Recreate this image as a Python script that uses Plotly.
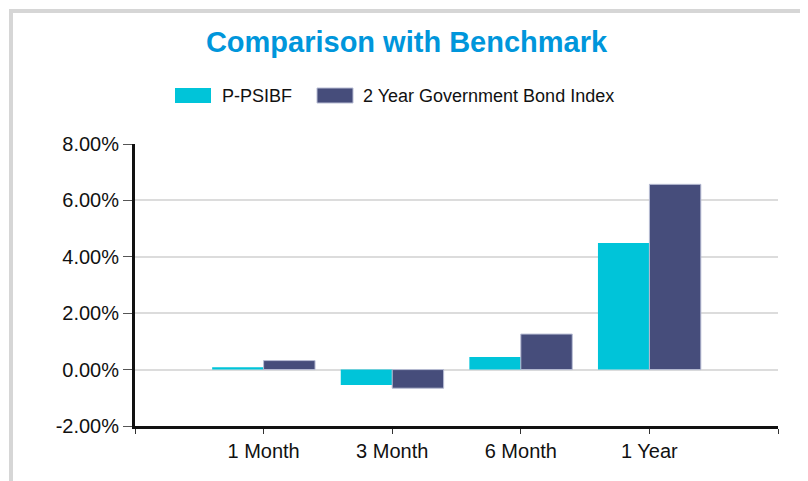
import plotly.graph_objects as go

# ---- data ----
categories = ["1 Month", "3 Month", "6 Month", "1 Year"]
fund_name = "P-PSIBF"
bench_name = "2 Year Government Bond Index"
fund_values = [0.08, -0.55, 0.45, 4.49]      # %
bench_values = [0.32, -0.66, 1.26, 6.57]     # %
y_ticks = [-2, 0, 2, 4, 6, 8]

# ---- style ----
OFF = 8  # default body margin of the html page
SW, SH = 808, 481
W, H = SW - OFF, SH - OFF
# plot area in screen pixels: x 135..778, y 144..426
ML, MT = 135 - OFF, 144 - OFF
MR, MB = SW - 778, SH - 426
PW, PH = W - ML - MR, H - MT - MB
CYAN = "#00C4D9"
NAVY = "#464D7B"
TITLE_BLUE = "#0096DB"
FONT = "Liberation Sans, Arial, sans-serif"

def px(x):
    # screen x -> paper x
    return (x - OFF - ML) / PW

def py(y):
    # screen y -> paper y
    return (H - MB - (y - OFF)) / PH

xpos = list(range(1, len(categories) + 1))

fig = go.Figure()
fig.add_trace(go.Bar(
    x=xpos, y=fund_values, name=fund_name,
    width=0.4, offset=-0.4,
    marker=dict(color=CYAN, line=dict(width=0)),
    showlegend=False,
))
fig.add_trace(go.Bar(
    x=xpos, y=bench_values, name=bench_name,
    width=0.4, offset=0.0,
    marker=dict(color=NAVY, line=dict(width=1, color="#B8BDD4")),
    showlegend=False,
))

shapes = [
    # outer border
    dict(type="rect", xref="paper", yref="paper",
         x0=px(11), x1=px(804), y0=py(11), y1=py(500),
         line=dict(color="#D6D6D6", width=4), layer="below"),
    # legend swatches
    dict(type="rect", xref="paper", yref="paper",
         x0=px(175), x1=px(211), y0=py(88), y1=py(103),
         fillcolor=CYAN, line=dict(width=0)),
    dict(type="rect", xref="paper", yref="paper",
         x0=px(317), x1=px(353), y0=py(88), y1=py(103),
         fillcolor=NAVY, line=dict(width=1, color="#B8BDD4")),
]

annotations = [
    dict(text=fund_name, xref="paper", yref="paper", x=px(220), y=py(95.5),
         xanchor="left", yanchor="middle", showarrow=False,
         font=dict(family=FONT, size=18, color="#111111")),
    dict(text=bench_name, xref="paper", yref="paper", x=px(361), y=py(95.5),
         xanchor="left", yanchor="middle", showarrow=False,
         font=dict(family=FONT, size=18, color="#111111")),
]

fig.update_layout(
    width=W, height=H,
    margin=dict(l=ML, r=MR, t=MT, b=MB),
    paper_bgcolor="white", plot_bgcolor="white",
    title=dict(text="<b>Comparison with Benchmark</b>",
               x=(406.5 - OFF) / W, xref="container",
               y=1 - (42 - OFF) / H, yref="container",
               xanchor="center", yanchor="middle",
               font=dict(family=FONT, size=29, color=TITLE_BLUE)),
    barmode="overlay",
    shapes=shapes,
    annotations=annotations,
    showlegend=False,
    xaxis=dict(
        range=[0, len(categories) + 1],
        tickmode="array",
        tickvals=[0] + xpos + [len(categories) + 1],
        ticktext=[""] + categories + [""],
        showgrid=False, zeroline=False,
        showline=True, linecolor="#111111", linewidth=3,
        ticks="outside", ticklen=5, tickwidth=1, tickcolor="#333333",
        tickfont=dict(family=FONT, size=20, color="#111111"),
        fixedrange=True,
    ),
    yaxis=dict(
        range=[-2, 8],
        tickmode="array",
        tickvals=y_ticks,
        ticktext=[f"{v:.2f}%" for v in y_ticks],
        showgrid=True, gridcolor="#DCDCDC", gridwidth=2,
        zeroline=False,
        showline=True, linecolor="#111111", linewidth=3,
        ticks="outside", ticklen=9, tickwidth=1, tickcolor="#555555",
        tickfont=dict(family=FONT, size=20, color="#111111"),
        fixedrange=True,
    ),
)

fig.write_html("out.html")
